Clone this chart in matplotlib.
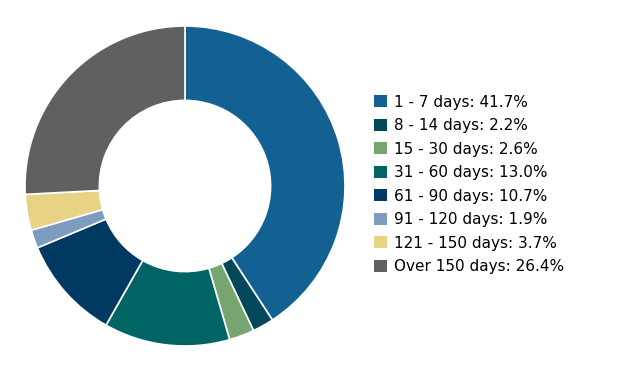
import matplotlib
matplotlib.use("Agg")
from matplotlib import pyplot as plt
from matplotlib.patches import Patch

labels = ["1 - 7 days", "8 - 14 days", "15 - 30 days", "31 - 60 days",
          "61 - 90 days", "91 - 120 days", "121 - 150 days", "Over 150 days"]
values = [41.7, 2.2, 2.6, 13.0, 10.7, 1.9, 3.7, 26.4]
colors = ["#136192", "#00485a", "#77a56f", "#006464",
          "#003a63", "#7e9cc0", "#e8d286", "#5f6062"]

plt.rcParams['font.family'] = ['DejaVu Sans']

fig = plt.figure(figsize=(6.27, 3.71), dpi=100)
W, H = 627, 371
cx, cy, r = 185, 186, 160
ax = fig.add_axes([(cx - r) / W, (H - cy - r) / H, 2 * r / W, 2 * r / H])
ax.pie(values, colors=colors, startangle=90, counterclock=False, radius=1,
       wedgeprops=dict(width=0.465, edgecolor="white", linewidth=1.2))
ax.set_xlim(-1, 1)
ax.set_ylim(-1, 1)
ax.set_aspect("equal")
ax.axis("off")

handles = [Patch(facecolor=c, edgecolor="none") for c in colors]
legend_labels = [f"{l}: {v:.1f}%" for l, v in zip(labels, values)]
fig.legend(handles, legend_labels, loc="upper left",
           bbox_to_anchor=(366 / W, 1 - 87 / H), frameon=False,
           fontsize=11, handlelength=0.85, handleheight=0.85,
           handletextpad=0.5, labelspacing=0.555, borderpad=0)

fig.savefig("out.png", dpi=100)
